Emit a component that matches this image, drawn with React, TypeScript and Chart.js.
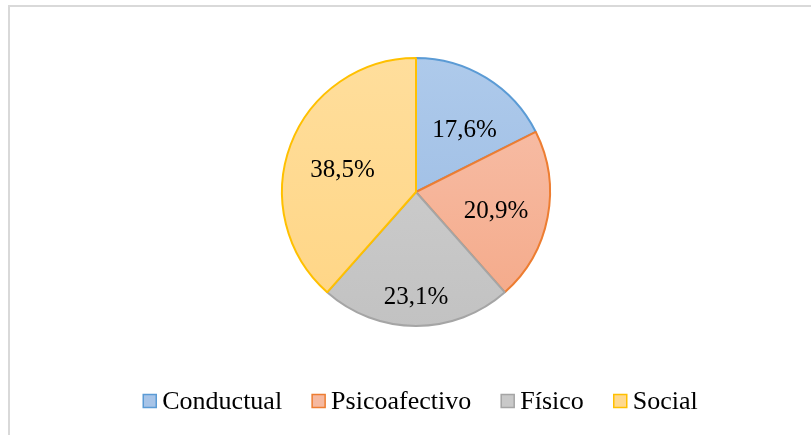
import React, { useEffect, useRef } from "react";
import { Chart, registerables } from "chart.js";

Chart.register(...registerables);

// ---- data ----
const categories = ["Conductual", "Psicoafectivo", "Físico", "Social"];
const values = [17.6, 20.9, 23.1, 38.5];
const valueLabels = ["17,6%", "20,9%", "23,1%", "38,5%"];

// ---- styles ----
const borderColors = ["#5B9BD5", "#ED7D31", "#A5A5A5", "#FFC000"];
const fillTop = ["#AECAEB", "#F8C2AD", "#D2D2D2", "#FFDE9C"];
const fillBottom = ["#98B9E2", "#F4A887", "#C2C2C2", "#FFD584"];
const legendFill = ["#A7C4E8", "#F6B9A0", "#C9C9C9", "#FFD98E"];
// label placement (fraction of radius, angle shift in degrees) – Excel "best fit"
const labelRadius = [0.593, 0.612, 0.776, 0.577];
const labelAngleShift = [5.9, 1.7, 0, -2.8];

const FONT = '"Liberation Serif", "Times New Roman", serif';

const sliceLabels = {
  id: "sliceLabels",
  afterDatasetsDraw(chart: any) {
    const ctx = chart.ctx;
    const meta = chart.getDatasetMeta(0);
    const size = 25;
    ctx.save();
    ctx.font = `${size}px ${FONT}`;
    ctx.fillStyle = "#000";
    ctx.textAlign = "center";
    ctx.textBaseline = "alphabetic";
    meta.data.forEach((arc: any, i: number) => {
      const p = arc.getProps(["x", "y", "startAngle", "endAngle", "outerRadius"], true);
      const a = (p.startAngle + p.endAngle) / 2 + (labelAngleShift[i] * Math.PI) / 180;
      const r = p.outerRadius * labelRadius[i];
      ctx.fillText(valueLabels[i], p.x + r * Math.cos(a), p.y + r * Math.sin(a) + size * 0.34);
    });
    ctx.restore();
  },
};

const bottomLegend = {
  id: "bottomLegend",
  afterDraw(chart: any) {
    const ctx = chart.ctx;
    const size = 26;
    const box = 13;
    const boxGap = 6;
    const itemGap = 30;
    const centerX = 420.5;
    const baseline = 409;
    const boxTop = 394.5;
    const labels: string[] = chart.data.labels;
    ctx.save();
    ctx.font = `${size}px ${FONT}`;
    const widths = labels.map((t) => ctx.measureText(t).width);
    const total =
      widths.reduce((s, w) => s + box + boxGap + w, 0) + itemGap * (labels.length - 1);
    let x = centerX - total / 2;
    labels.forEach((t, i) => {
      ctx.fillStyle = legendFill[i];
      ctx.fillRect(x, boxTop, box, box);
      ctx.strokeStyle = borderColors[i];
      ctx.lineWidth = 1.5;
      ctx.strokeRect(x, boxTop, box, box);
      ctx.fillStyle = "#000";
      ctx.textAlign = "left";
      ctx.textBaseline = "alphabetic";
      ctx.fillText(t, x + box + boxGap, baseline);
      x += box + boxGap + widths[i] + itemGap;
    });
    ctx.restore();
  },
};

export default function App() {
  const ref = useRef<HTMLCanvasElement | null>(null);

  useEffect(() => {
    if (!ref.current) return;
    const chart = new Chart(ref.current, {
      type: "pie",
      data: {
        labels: categories,
        datasets: [
          {
            data: values,
            backgroundColor: (c: any) => {
              const i = c.dataIndex;
              const area = c.chart.chartArea;
              if (!area) return fillTop[i];
              const g = c.chart.ctx.createLinearGradient(0, area.top, 0, area.bottom);
              g.addColorStop(0, fillTop[i]);
              g.addColorStop(1, fillBottom[i]);
              return g;
            },
            borderColor: borderColors,
            borderWidth: 2,
          },
        ],
      },
      options: {
        responsive: false,
        maintainAspectRatio: false,
        animation: false,
        devicePixelRatio: 1,
        layout: { padding: { top: 57, bottom: 108, left: 21, right: 0 } },
        plugins: {
          legend: { display: false },
          tooltip: { enabled: false },
        },
      },
      plugins: [sliceLabels, bottomLegend],
    });
    return () => chart.destroy();
  }, []);

  return (
    <div
      style={{
        position: "fixed",
        left: 0,
        top: 0,
        width: 811,
        height: 435,
        overflow: "hidden",
        background: "#fff",
      }}
    >
      <div
        style={{
          position: "absolute",
          left: 8,
          top: 5,
          width: 823,
          height: 470,
          border: "2px solid #D9D9D9",
          boxSizing: "border-box",
        }}
      />
      <canvas
        ref={ref}
        width={811}
        height={435}
        style={{ position: "absolute", left: 0, top: 0, width: 811, height: 435 }}
      />
    </div>
  );
}
